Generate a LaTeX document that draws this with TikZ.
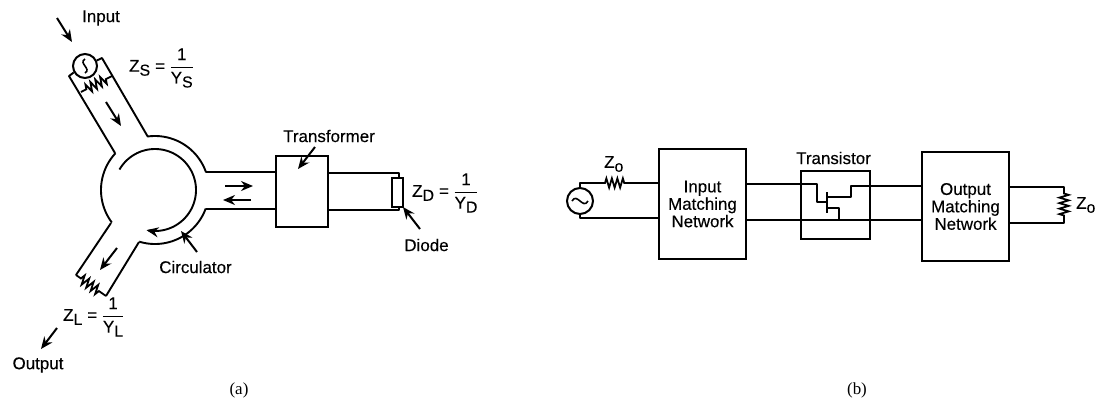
\documentclass[tikz,border=0pt]{standalone}
\usepackage{fontspec}
\setmainfont[FakeBold=0.25]{Liberation Sans}
\newfontfamily\capfont{Liberation Serif}
\usetikzlibrary{arrows.meta,decorations.pathmorphing,calc}
\newcommand{\subsc}[1]{\raisebox{-4bp}{\fontsize{16}{16}\selectfont #1}}
\newcommand{\zeq}[1]{Z\subsc{#1}\hspace{5bp}=\hspace{4.5bp}$\displaystyle\frac{\mbox{1}}{\mbox{Y\subsc{#1}}}$}
\tikzset{
  wire/.style={line width=1.9bp,line join=round},
  arr/.style={line width=2bp,-{Stealth[length=12bp,width=10bp]}},
  res/.style={line width=1.8bp,decorate,decoration={zigzag,segment length=5.5bp,amplitude=4.6bp,pre length=#1,post length=#1}},
  res/.default=6bp,
  lab/.style={inner sep=0pt,font=\fontsize{17}{17.5}\selectfont},
  boxn/.style={draw,line width=2bp,inner sep=0pt,align=center,font=\fontsize{17}{17.5}\selectfont},
  src/.style={draw,circle,line width=2bp,inner sep=0pt},
  figcap/.style={inner sep=0pt,font=\capfont\fontsize{17}{17}\selectfont}
}
\newcommand{\ringarc}[3]{\draw[wire,#3] plot[domain=#1:#2,samples=70] ({155+54*cos(\x)},{190+54*sin(\x)});}
\begin{document}
\begin{tikzpicture}[x=1bp,y=-1bp]
\useasboundingbox (0,0) rectangle (1099,406);
% circulator
\ringarc{-97.5}{-19}{}
\ringarc{20}{107}{}
\ringarc{143}{223}{}
\draw[line width=1.9bp,-{Stealth[length=12bp,width=10bp]}] plot[domain=-150:102,samples=90] ({155+41*cos(\x)},{190+41*sin(\x)});
% input port
\coordinate (inL) at (69,76);
\coordinate (inLb) at (115,153);
\coordinate (inR) at (102,58);
\coordinate (inRb) at (148,137);
\coordinate (inA) at (81,92);
\coordinate (inB) at (112,76);
\node[src,minimum size=24bp] (srcA) at (85,66) {};
\draw[line width=1.6bp] (85,59) .. controls (78,63) and (92,69) .. (85,73);
\draw[wire] (srcA.210) -- (inL) -- (inLb);
\draw[wire] (srcA.25) -- (inR) -- (inRb);
\draw[res] (inA) -- (inB);
\coordinate (a1) at (57,18); \coordinate (a2) at (72,42);
\draw[arr] (a1) -- (a2);
\coordinate (a3) at (106,102); \coordinate (a4) at (121,126);
\draw[arr] (a3) -- (a4);
% output port
\coordinate (ouL) at (111,223);
\coordinate (ouLe) at (76,275);
\coordinate (ouR) at (139,242);
\coordinate (ouRe) at (106,296);
\draw[wire] (ouL) -- (ouLe);
\draw[wire] (ouR) -- (ouRe);
\draw[res] (ouLe) -- (ouRe);
\coordinate (a5) at (117,248); \coordinate (a6) at (100,270);
\draw[arr] (a5) -- (a6);
\coordinate (a7) at (57,328); \coordinate (a8) at (41,349);
\draw[arr] (a7) -- (a8);
\coordinate (a9) at (197,252); \coordinate (a10) at (181,231);
\draw[arr] (a9) -- (a10);
% transformer and diode
\node[boxn,minimum width=52bp,minimum height=71bp] (xfm) at (302,191.5) {};
\node[draw,line width=1.9bp,inner sep=0pt,minimum width=11bp,minimum height=29bp] (diode) at (397.5,192.5) {};
\coordinate (rT) at (206,172);
\coordinate (rB) at (206,209);
\draw[wire] (rT) -- (rT -| xfm.west);
\draw[wire] (rB) -- (rB -| xfm.west);
\coordinate (dT) at (399,173);
\coordinate (dB) at (399,210);
\draw[wire] (dT -| xfm.east) -- (dT) -- (dT |- diode.north);
\draw[wire] (dB -| xfm.east) -- (dB) -- (dB |- diode.south);
\coordinate (b1) at (225,186); \coordinate (b2) at (253,186);
\draw[arr] (b1) -- (b2);
\coordinate (b3) at (251,200); \coordinate (b4) at (223,200);
\draw[arr] (b3) -- (b4);
\coordinate (b5) at (315,147); \coordinate (b6) at (298,169);
\draw[arr] (b5) -- (b6);
\coordinate (b7) at (420,229); \coordinate (b8) at (403,207);
\draw[arr] (b7) -- (b8);
% labels (a)
\node[lab,anchor=west] (tIn) at (82,18) {Input};
\node[lab,anchor=west] (tZs) at (129,68) {\zeq{S}};
\node[lab,anchor=west] (tZl) at (63,317) {\zeq{L}};
\node[lab,anchor=west] (tZd) at (412,193) {\zeq{D}};
\node[lab] (tTr) at (329,136) {Transformer};
\node[lab] (tDi) at (426.5,245) {Diode};
\node[lab] (tCi) at (195.5,267) {Circulator};
\node[lab] (tOu) at (38,365) {Output};
\node[figcap] (capa) at (239,390) {(a)};
% (b)
\node[src,minimum size=26bp] (srcB) at (580,201) {};
\draw[line width=1.6bp] (572,201) .. controls (577,192) and (583,210) .. (588,201);
\node[boxn,minimum width=87bp,minimum height=110bp] (imn) at (702.5,204) {Input\\Matching\\Network};
\node[draw,line width=2bp,inner sep=0pt,minimum width=69bp,minimum height=68bp] (trb) at (835.5,205) {};
\node[boxn,minimum width=87bp,minimum height=109bp] (omn) at (965.5,206.5) {Output\\Matching\\Network};
\coordinate (s1) at (580,183);
\coordinate (r1a) at (604,183);
\coordinate (r1b) at (628,183);
\coordinate (s2) at (580,218);
\draw[wire] (srcB.north) -- (s1) -- (r1a);
\draw[res=1bp] (r1a) -- (r1b);
\draw[wire] (r1b) -- (r1b -| imn.west);
\draw[wire] (srcB.south) -- (s2) -- (s2 -| imn.west);
\coordinate (g1) at (817,184);
\coordinate (g2) at (817,202);
\coordinate (g3) at (827,202);
\coordinate (g4) at (827,192);
\coordinate (g5) at (827,213);
\coordinate (d1) at (827,197);
\coordinate (d2) at (851,197);
\coordinate (d3) at (851,186);
\coordinate (s3) at (827,208);
\coordinate (s4) at (839,208);
\coordinate (s5) at (839,220);
\draw[wire] (g1 -| imn.east) -- (g1) -- (g2) -- (g3);
\draw[wire] (g4) -- (g5);
\draw[wire] (d1) -- (d2) -- (d3) -- (d3 -| omn.west);
\draw[wire] (s3) -- (s4) -- (s5);
\draw[wire] (s5 -| imn.east) -- (s5 -| omn.west);
\coordinate (o1) at (1064,187);
\coordinate (o2) at (1064,223);
\coordinate (o1r) at (1064,193);
\coordinate (o2r) at (1064,217);
\draw[wire] (o1 -| omn.east) -- (o1) -- (o1r);
\draw[wire] (o2 -| omn.east) -- (o2) -- (o2r);
\draw[res=0.5bp] (o1r) -- (o2r);
\node[lab] (tTb) at (833.5,158) {Transistor};
\node[lab,anchor=west] (tZ0a) at (604,164) {Z\subsc{o}};
\node[lab,anchor=west] (tZ0b) at (1076,205) {Z\subsc{o}};
\node[figcap] (capb) at (857,390) {(b)};
\end{tikzpicture}
\end{document}
